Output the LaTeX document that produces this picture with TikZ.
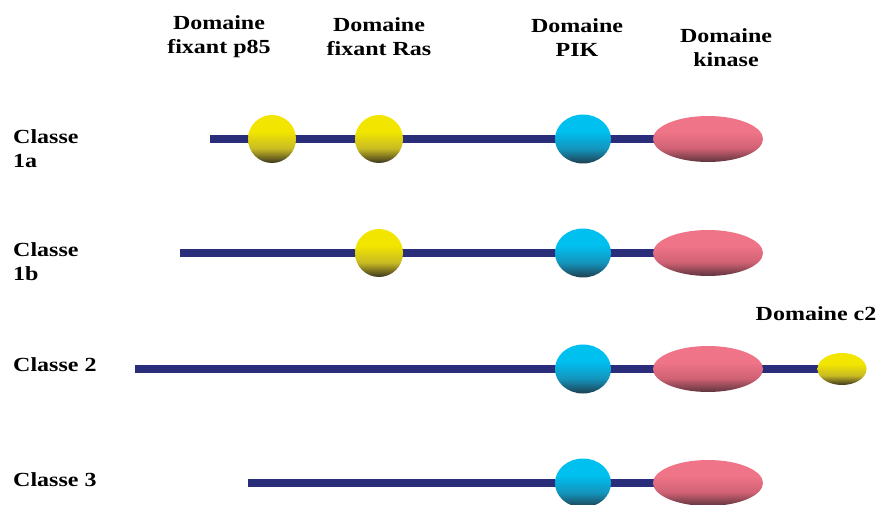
\documentclass[tikz,border=0pt]{standalone}
\usepackage{fontspec}
\setmainfont{Liberation Serif}[FakeStretch=1.2]
\usetikzlibrary{shapes.geometric,backgrounds}
\definecolor{navy}{RGB}{42,46,122}
\definecolor{ytop}{RGB}{242,230,0}
\definecolor{ymid}{RGB}{200,186,35}
\definecolor{ybot}{RGB}{60,54,30}
\definecolor{btop}{RGB}{0,192,240}
\definecolor{bmid}{RGB}{20,148,188}
\definecolor{bbot}{RGB}{30,62,80}
\definecolor{ptop}{RGB}{240,116,136}
\definecolor{pmid}{RGB}{208,98,116}
\definecolor{pbot}{RGB}{95,52,62}
\pgfdeclareverticalshading{yshade}{100bp}{color(0bp)=(ybot); color(25bp)=(ybot); color(40bp)=(ymid); color(58bp)=(ytop); color(100bp)=(ytop)}
\pgfdeclareverticalshading{bshade}{100bp}{color(0bp)=(bbot); color(25bp)=(bbot); color(40bp)=(bmid); color(58bp)=(btop); color(100bp)=(btop)}
\pgfdeclareverticalshading{pshade}{100bp}{color(0bp)=(pbot); color(25bp)=(pbot); color(40bp)=(pmid); color(58bp)=(ptop); color(100bp)=(ptop)}
\tikzset{
  ydom/.style={ellipse,inner sep=0pt,minimum width=48pt,minimum height=48pt,shading=yshade},
  bdom/.style={ellipse,inner sep=0pt,minimum width=56pt,minimum height=49pt,shading=bshade},
  kdom/.style={ellipse,inner sep=0pt,minimum width=110pt,minimum height=46pt,shading=pshade},
  cdom/.style={ellipse,inner sep=0pt,minimum width=49pt,minimum height=32pt,shading=yshade},
  bar/.style={draw=navy,line width=8.5pt},
  lbl/.style={inner sep=0pt,font=\bfseries\fontsize{20}{24}\selectfont},
  hdr/.style={lbl,align=center},
  cls/.style={lbl,align=left,anchor=north west}
}
\begin{document}
\begin{tikzpicture}[x=1pt,y=-1pt]
\useasboundingbox (0,0) rectangle (879,505);
% headers
\node[hdr] (h1) at (219,37) {Domaine\\fixant p85};
\node[hdr] (h2) at (379,37) {Domaine\\fixant Ras};
\node[hdr] (h3) at (577,38) {Domaine\\PIK};
\node[hdr] (h4) at (726,48) {Domaine\\kinase};
\node[lbl] (h5) at (816,314) {Domaine c2};
% class labels
\node[cls] (c1) at (13,129) {Classe\\1a};
\node[cls] (c2) at (13,242) {Classe\\1b};
\node[cls] (c3) at (13,357) {Classe 2};
\node[cls] (c4) at (13,472) {Classe 3};
% row 1a
\coordinate (s1) at (210,139);
\node[ydom] (p1) at (272,139) {};
\node[ydom] (r1) at (379,139) {};
\node[bdom] (k1) at (583,139) {};
\node[kdom] (n1) at (708,139) {};
% row 1b
\coordinate (s2) at (180,253);
\node[ydom] (r2) at (379,253) {};
\node[bdom] (k2) at (583,253) {};
\node[kdom] (n2) at (708,253) {};
% row 2
\coordinate (s3) at (135,369);
\node[bdom] (k3) at (583,369) {};
\node[kdom] (n3) at (708,369) {};
\node[cdom] (e3) at (842,369) {};
% row 3
\coordinate (s4) at (248,483);
\node[bdom] (k4) at (583,483) {};
\node[kdom] (n4) at (708,483) {};
\begin{scope}[on background layer]
\draw[bar] (s1) -- (n1.center);
\draw[bar] (s2) -- (n2.center);
\draw[bar] (s3) -- (e3.center);
\draw[bar] (s4) -- (n4.center);
\end{scope}
\end{tikzpicture}
\end{document}
